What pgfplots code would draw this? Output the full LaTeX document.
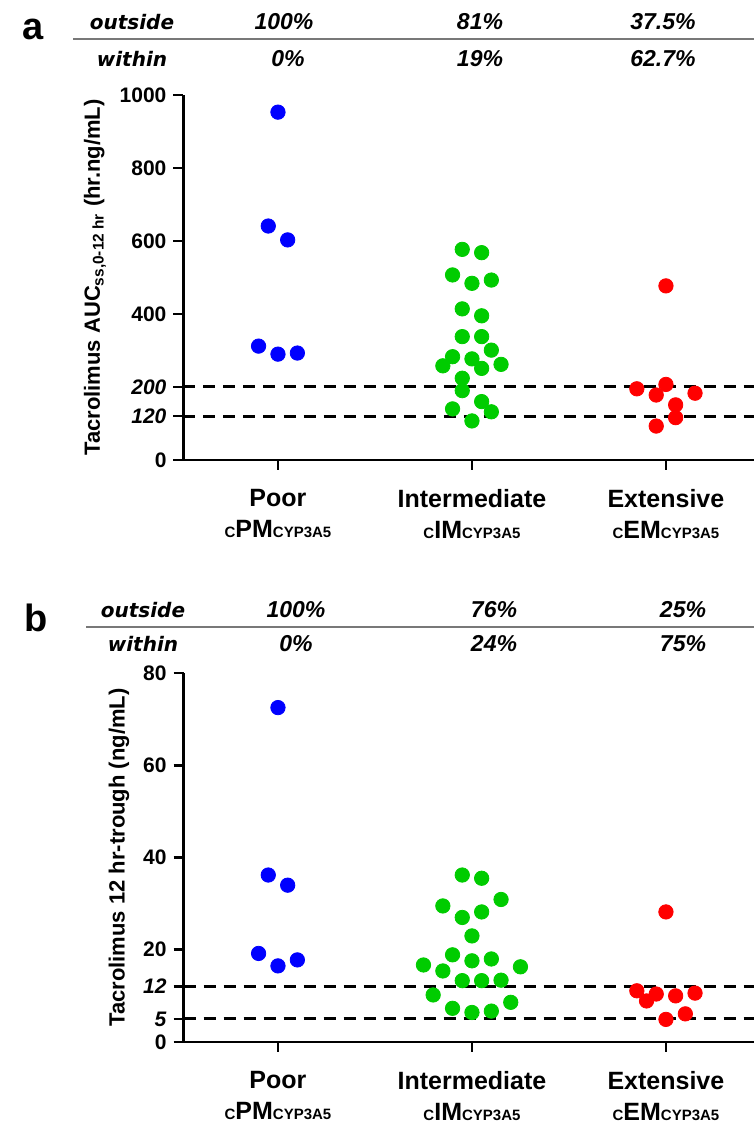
\documentclass[border=0pt]{standalone}
\usepackage{fontspec}
\setmainfont{Liberation Sans}
\newfontfamily\hdr{DejaVu Sans}
\usepackage{pgfplots}
\pgfplotsset{compat=1.18}

\definecolor{pblue}{RGB}{0,0,255}
\definecolor{pgreen}{RGB}{0,204,0}
\definecolor{pred}{RGB}{255,0,0}
\definecolor{hline}{RGB}{120,120,120}
\newcommand{\sm}[1]{{\fontsize{7.5}{8}\selectfont #1}}

\pgfplotsset{
  panel/.style={
    scale only axis, width=285.25pt, xmin=0.513, xmax=3.454,
    axis x line=bottom, axis y line=left,
    axis line style={line width=1.3pt, -},
    tick style={line width=1.3pt, black},
    major tick length=5pt, tick align=outside,
    xtick={1,2,3},
    xticklabels={{Poor\\\sm{C}PM\sm{CYP3A5}},{Intermediate\\\sm{C}IM\sm{CYP3A5}},{Extensive\\\sm{C}EM\sm{CYP3A5}}},
    xticklabel style={align=center, font=\fontsize{12.5}{15.5}\selectfont\bfseries, yshift=-6pt},
    yticklabel style={font=\fontsize{10.5}{12}\selectfont\bfseries},
    ylabel style={font=\fontsize{11}{13}\selectfont\bfseries},
  },
  dots/.style={only marks, mark=*, mark size=3.6pt, color=#1, mark options={draw=none, fill=#1}},
  cut/.style={no marks, black, line width=1.5pt, dash pattern=on 6pt off 4pt},
}

\begin{document}
\begin{tikzpicture}
\path[use as bounding box] (0,0) rectangle (377pt,562.5pt);

% panel a: AUC
\begin{axis}[panel, at={(91.75pt,332.5pt)}, anchor=south west, height=182.5pt,
  ymin=0, ymax=1000,
  ytick={0,120,200,400,600,800,1000},
  yticklabels={0,\textit{120},\textit{200},400,600,800,1000},
  ylabel={Tacrolimus AUC\textsubscript{ss,0-12 hr} (hr.ng/mL)}]
  \addplot[cut] coordinates {(0.513,200) (3.454,200)};
  \addplot[cut] coordinates {(0.513,120) (3.454,120)};
  \addplot[dots=pblue] coordinates {(1.0,953) (0.95,641) (1.05,603) (0.9,312) (1.0,290) (1.1,293)};
  \addplot[dots=pgreen] coordinates {
    (1.95,577) (2.05,568) (1.9,507) (2.0,484) (2.1,493) (1.95,414) (2.05,395)
    (1.95,338) (2.05,338) (2.1,301) (1.9,283) (2.0,277) (1.85,258) (2.15,262)
    (2.05,251) (1.95,224) (1.95,190) (2.05,160) (1.9,140) (2.1,132) (2.0,107)};
  \addplot[dots=pred] coordinates {(3.0,477) (2.85,195) (3.0,207) (2.95,178) (3.15,183) (3.05,151) (3.05,116) (2.95,93)};
\end{axis}

% panel b: trough
\begin{axis}[panel, at={(91.75pt,41.5pt)}, anchor=south west, height=184.5pt,
  ymin=0, ymax=80,
  ytick={0,5,12,20,40,60,80},
  yticklabels={0,\textit{5},\textit{12},20,40,60,80},
  ylabel={Tacrolimus 12 hr-trough (ng/mL)}]
  \addplot[cut] coordinates {(0.513,12) (3.454,12)};
  \addplot[cut] coordinates {(0.513,5) (3.454,5)};
  \addplot[dots=pblue] coordinates {(1.0,72.5) (0.95,36.2) (1.05,34.0) (0.9,19.2) (1.0,16.5) (1.1,17.8)};
  \addplot[dots=pgreen] coordinates {
    (1.95,36.2) (2.05,35.5) (2.15,30.9) (1.85,29.5) (2.05,28.2) (1.95,27.0) (2.0,23.0)
    (1.9,18.9) (1.75,16.7) (2.0,17.6) (2.1,18.0) (2.25,16.3) (1.85,15.4) (1.95,13.3)
    (2.05,13.3) (2.15,13.4) (1.8,10.2) (2.2,8.6) (1.9,7.3) (2.0,6.4) (2.1,6.7)};
  \addplot[dots=pred] coordinates {(3.0,28.2) (2.85,11.1) (2.95,10.4) (2.9,8.9) (3.05,10.0) (3.15,10.6) (3.1,6.1) (3.0,4.9)};
\end{axis}

% header tables
\tikzset{lab/.style={anchor=base, font=\hdr\fontsize{10}{12}\selectfont\bfseries\itshape},
         pct/.style={anchor=base, font=\fontsize{11.5}{13}\selectfont\bfseries\itshape}}
\node[anchor=base west, font=\fontsize{19}{20}\selectfont\bfseries] at (7.5pt,542.5pt) {a};
\draw[hline, line width=1.3pt] (36.5pt,543pt) -- (377pt,543pt);
\node[lab] at (66pt,547.5pt) {outside};
\node[lab] at (66pt,529pt) {within};
\node[pct] at (142pt,547.5pt) {100\%};
\node[pct] at (144pt,529pt) {0\%};
\node[pct] at (240pt,547.5pt) {81\%};
\node[pct] at (240pt,529pt) {19\%};
\node[pct] at (331.5pt,547.5pt) {37.5\%};
\node[pct] at (331.5pt,529pt) {62.7\%};

\node[anchor=base west, font=\fontsize{19}{20}\selectfont\bfseries] at (8.5pt,246.5pt) {b};
\draw[hline, line width=1.3pt] (43pt,249pt) -- (377pt,249pt);
\node[lab] at (71.5pt,253.5pt) {outside};
\node[lab] at (71.5pt,236.5pt) {within};
\node[pct] at (148pt,253.5pt) {100\%};
\node[pct] at (148pt,236.5pt) {0\%};
\node[pct] at (247pt,253.5pt) {76\%};
\node[pct] at (247pt,236.5pt) {24\%};
\node[pct] at (341.5pt,253.5pt) {25\%};
\node[pct] at (341.5pt,236.5pt) {75\%};
\end{tikzpicture}
\end{document}
